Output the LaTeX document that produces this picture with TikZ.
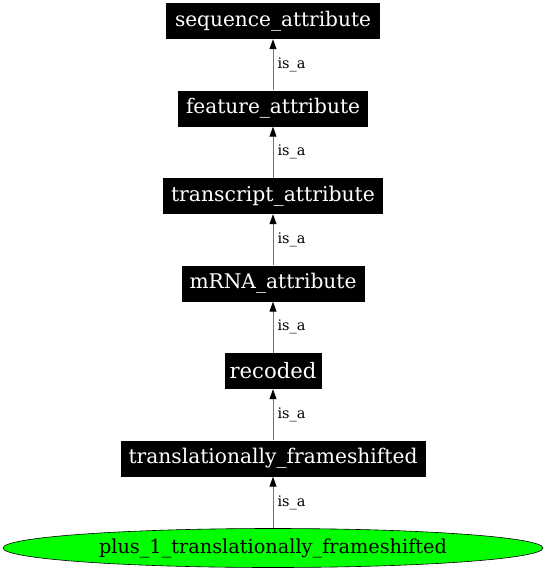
\documentclass[tikz,border=0pt]{standalone}
\usepackage{fontspec}
\setmainfont{DejaVu Serif}
\usetikzlibrary{arrows.meta,shapes.geometric}
\newlength{\fitlen}
\newcommand{\fittext}[2]{%
  \settowidth{\fitlen}{\fontsize{10}{12}\selectfont #2}%
  \pgfmathsetmacro{\fitsize}{10*#1/(\fitlen/1pt)}%
  {\fontsize{\fitsize}{\fitsize}\selectfont #2}}
\begin{document}
\begin{tikzpicture}[x=1pt,y=-1pt,
  termbox/.style={fill=black,text=white,minimum height=36pt,inner sep=0pt,anchor=center},
  isa/.style={draw=black!55,line width=1pt,-{Triangle[length=10pt,width=7pt,color=black,fill=black]}},
  lbl/.style={anchor=west,inner sep=0pt}]
\useasboundingbox (0,0) rectangle (546,576);
\node[termbox,minimum width=214pt] (seq) at (273,21) {\fittext{196}{sequence\_attribute}};
\node[termbox,minimum width=190pt] (feat) at (273,108.5) {\fittext{174}{feature\_attribute}};
\node[termbox,minimum width=220pt] (tra) at (273,196) {\fittext{204}{transcript\_attribute}};
\node[termbox,minimum width=183pt] (mrna) at (273,283.5) {\fittext{167}{mRNA\_attribute}};
\node[termbox,minimum width=97pt] (rec) at (273,371) {\fittext{87}{recoded}};
\node[termbox,minimum width=305pt] (tf) at (273,458.5) {\fittext{289}{translationally\_frameshifted}};
\node[ellipse,draw=black,fill=green,line width=0.6pt,minimum width=540pt,minimum height=39pt,inner sep=0pt] (plus) at (273,548) {\fittext{348}{plus\_1\_translationally\_frameshifted}};
\draw[isa] (feat) -- node[lbl,xshift=4pt] {\fittext{28}{is\_a}} (seq);
\draw[isa] (tra) -- node[lbl,xshift=4pt] {\fittext{28}{is\_a}} (feat);
\draw[isa] (mrna) -- node[lbl,xshift=4pt] {\fittext{28}{is\_a}} (tra);
\draw[isa] (rec) -- node[lbl,xshift=4pt] {\fittext{28}{is\_a}} (mrna);
\draw[isa] (tf) -- node[lbl,xshift=4pt] {\fittext{28}{is\_a}} (rec);
\draw[isa] (plus) -- node[lbl,xshift=4pt] {\fittext{28}{is\_a}} (tf);
\end{tikzpicture}
\end{document}
